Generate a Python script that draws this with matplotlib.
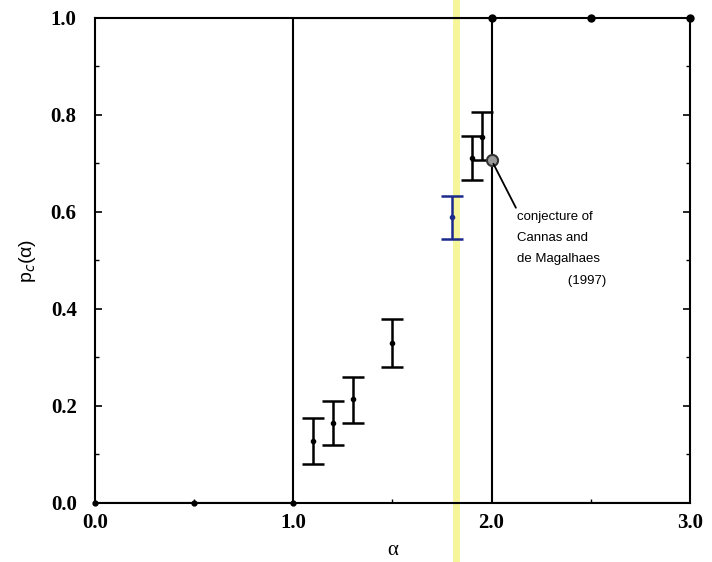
import matplotlib
matplotlib.use('Agg')
import matplotlib.pyplot as plt
from matplotlib.ticker import MultipleLocator, FormatStrFormatter
from matplotlib.transforms import blended_transform_factory
import numpy as np

# step curve p_c(alpha) (theory)
step_alpha = [0.0, 0.5, 1.0, 1.0, 2.0, 2.0, 2.5, 3.0]
step_p = [0.0, 0.0, 0.0, 1.0, 1.0, 0.0, 0.0, 0.0]
low_dot_alpha = [0.0, 0.5, 1.0]
low_dot_p = [0.0, 0.0, 0.0]
high_dot_alpha = [2.0, 2.5, 3.0]
high_dot_p = [1.0, 1.0, 1.0]

# simulation estimates with error bars
sim_alpha = [1.1, 1.2, 1.3, 1.5, 1.9, 1.95]
sim_p = [0.128, 0.165, 0.214, 0.33, 0.711, 0.755]
sim_lo = [0.08, 0.12, 0.165, 0.28, 0.666, 0.707]
sim_hi = [0.175, 0.21, 0.26, 0.38, 0.757, 0.806]

# highlighted point (blue)
blue_alpha = [1.8]
blue_p = [0.59]
blue_lo = [0.544]
blue_hi = [0.633]

# conjecture of Cannas and de Magalhaes
conj_alpha = 2.0
conj_p = 0.707

highlight_alpha = 1.82

fig = plt.figure(figsize=(7.12, 5.62), dpi=100)
ax = fig.add_axes([0.133, 0.105, 0.836, 0.863])

ax.plot(step_alpha, step_p, color='black', lw=1.5)
ax.plot(low_dot_alpha, low_dot_p, 'o', color='black', ms=3.5, clip_on=False)
ax.plot(high_dot_alpha, high_dot_p, 'o', color='black', ms=5, clip_on=False)

sim_p = np.array(sim_p)
yerr = [sim_p - np.array(sim_lo), np.array(sim_hi) - sim_p]
ax.errorbar(sim_alpha, sim_p, yerr=yerr, fmt='o', ms=3, color='black',
            ecolor='black', elinewidth=1.8, capsize=8, capthick=1.8)

blue_p = np.array(blue_p)
yerr_b = [blue_p - np.array(blue_lo), np.array(blue_hi) - blue_p]
ax.errorbar(blue_alpha, blue_p, yerr=yerr_b, fmt='o', ms=3, color='#1c2a8c',
            ecolor='#1c2a8c', elinewidth=1.8, capsize=8, capthick=1.8)

ax.plot([conj_alpha], [conj_p], 'o', ms=8, mfc='#999999', mec='#333333', mew=1.5)
ax.annotate('conjecture of\nCannas and\nde Magalhaes\n              (1997)',
            xy=(conj_alpha, conj_p), xytext=(2.13, 0.603),
            fontsize=9.5, family='Liberation Sans', va='top', ha='left',
            linespacing=2.05,
            arrowprops=dict(arrowstyle='-', color='black', lw=1.3,
                            shrinkA=0, shrinkB=3, relpos=(0.0, 1.0)))

# yellow highlight across the whole figure
trans = blended_transform_factory(ax.transData, fig.transFigure)
ax.plot([highlight_alpha, highlight_alpha], [0, 1], transform=trans,
        color='#f6f59a', lw=5, clip_on=False, zorder=0)

ax.set_xlim(0, 3.0)
ax.set_ylim(0, 1.0)
ax.set_xticks([0.0, 1.0, 2.0, 3.0])
ax.set_yticks([0.0, 0.2, 0.4, 0.6, 0.8, 1.0])
ax.xaxis.set_major_formatter(FormatStrFormatter('%.1f'))
ax.yaxis.set_major_formatter(FormatStrFormatter('%.1f'))
ax.xaxis.set_minor_locator(MultipleLocator(0.5))
ax.yaxis.set_minor_locator(MultipleLocator(0.1))
ax.tick_params(which='both', direction='in', right=True, top=False)
ax.tick_params(which='major', length=5, width=1.2)
ax.tick_params(which='minor', length=3, width=1)
ax.tick_params(axis='y', pad=13)
ax.tick_params(axis='x', pad=7)
for lab in ax.get_xticklabels() + ax.get_yticklabels():
    lab.set_family('Liberation Serif')
    lab.set_fontweight('bold')
    lab.set_fontsize(15)
for s in ax.spines.values():
    s.set_linewidth(1.5)

ax.set_xlabel('α', family='Liberation Serif', fontsize=15, labelpad=6)
ax.set_ylabel('p$_c$(α)', family='Liberation Sans', fontsize=14)
ax.yaxis.set_label_coords(-0.096, 0.5)

fig.savefig('out.png', dpi=100)
